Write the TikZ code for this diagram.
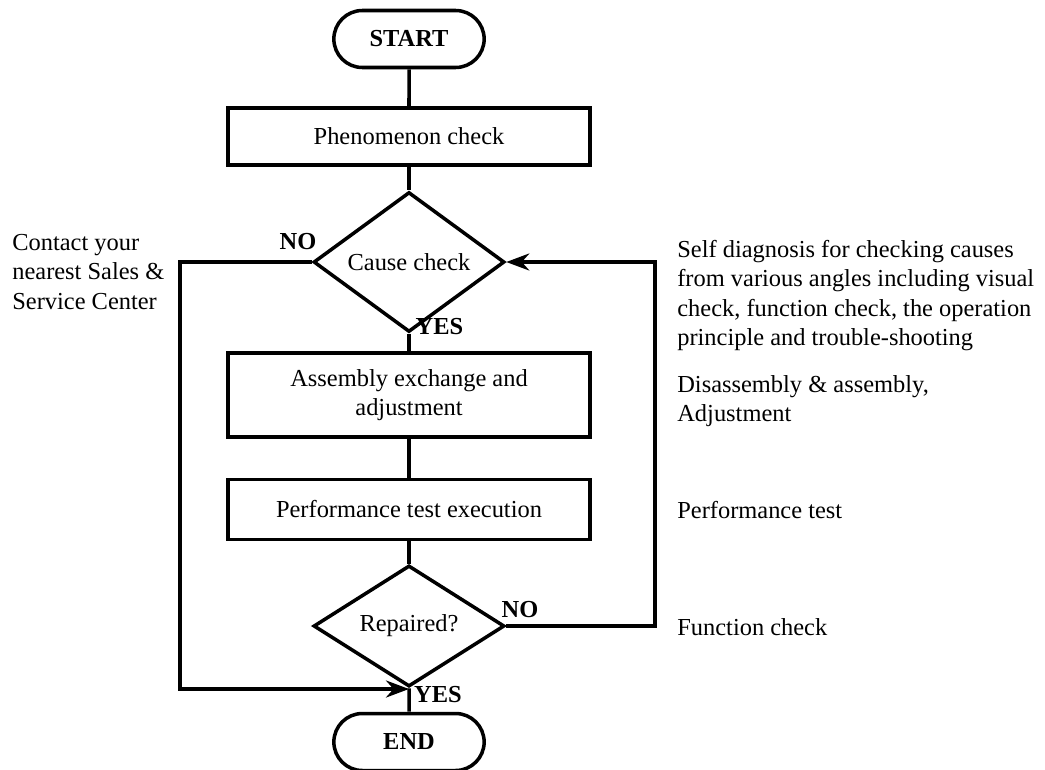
\documentclass[tikz,border=0pt]{standalone}
\usepackage{fontspec}
\setmainfont{Liberation Serif}
\usepackage{tikz}
\usetikzlibrary{arrows.meta}
\usetikzlibrary{shapes.geometric}
\usetikzlibrary{shapes.misc}

\newcommand{\chartfont}{\fontsize{13.9pt}{16.6pt}\selectfont}

\begin{document}
\begin{tikzpicture}[font=\chartfont]
  \tikzset{terminal/.style = {shape=rounded rectangle,draw,line width=2pt,minimum width=3.24cm,minimum height=1.14cm,font=\chartfont\bfseries}}
  \tikzset{process/.style = {shape=rectangle,draw,line width=2pt,minimum width=7.24cm,align=center}}
  \tikzset{decision/.style = {shape=diamond,draw,line width=2pt,minimum width=3.82cm,minimum height=2.12cm,inner sep=0pt}}
  \tikzset{flow/.style = {line width=2pt}}
  \tikzset{flowarrow/.style = {line width=2pt,-{Stealth[length=0.46cm,width=0.34cm]}}}
  \tikzset{answer/.style = {font=\chartfont\bfseries,inner sep=0pt}}
  \tikzset{note/.style = {align=left,inner sep=0pt,anchor=west}}

  \useasboundingbox (0,0) rectangle (20.9,-15.38);

	\node[terminal] (start) at (8.18,-0.78) {START};
	\node[process,minimum height=1.14cm] (phen) at (8.18,-2.73) {Phenomenon check};
	\node[decision] (cause) at (8.18,-5.24) {Cause check};
	\node[process,minimum height=1.68cm] (assy) at (8.18,-7.9) {Assembly exchange and\\adjustment};
	\node[process,minimum height=1.2cm] (perf) at (8.18,-10.19) {Performance test execution};
	\node[decision] (rep) at (8.18,-12.52) {Repaired?};
	\node[terminal] (finish) at (8.18,-14.84) {END};

	\node[answer] (causeno) at (5.96,-4.84) {NO};
	\node[answer] (causeyes) at (8.79,-6.54) {YES};
	\node[answer] (repno) at (10.4,-12.2) {NO};
	\node[answer] (repyes) at (8.76,-13.9) {YES};

	\node[note] (contact) at (0.24,-5.44) {Contact your\\nearest Sales \&\\Service Center};
	\node[note] (selfdiag) at (13.54,-5.91) {Self diagnosis for checking causes\\from various angles including visual\\check, function check, the operation\\principle and trouble-shooting};
	\node[note] (disasm) at (13.54,-8.02) {Disassembly \& assembly,\\Adjustment};
	\node[note] (perftest) at (13.54,-10.2) {Performance test};
	\node[note] (funccheck) at (13.54,-12.54) {Function check};

	\coordinate (join) at (8.18,-13.78);
	\coordinate (leftturn) at (3.6,-13.78);
	\coordinate (rightturn) at (13.1,-12.52);

       \foreach \from/\to in {start/phen, phen/cause, cause/assy, assy/perf, perf/rep, rep/finish}
    \draw[flow] (\from) -- (\to);
	\draw[flowarrow] (cause.west) -| (leftturn) -- (join);
	\draw[flowarrow] (rep.east) -- (rightturn) |- (cause.east);
\end{tikzpicture}
\end{document}
